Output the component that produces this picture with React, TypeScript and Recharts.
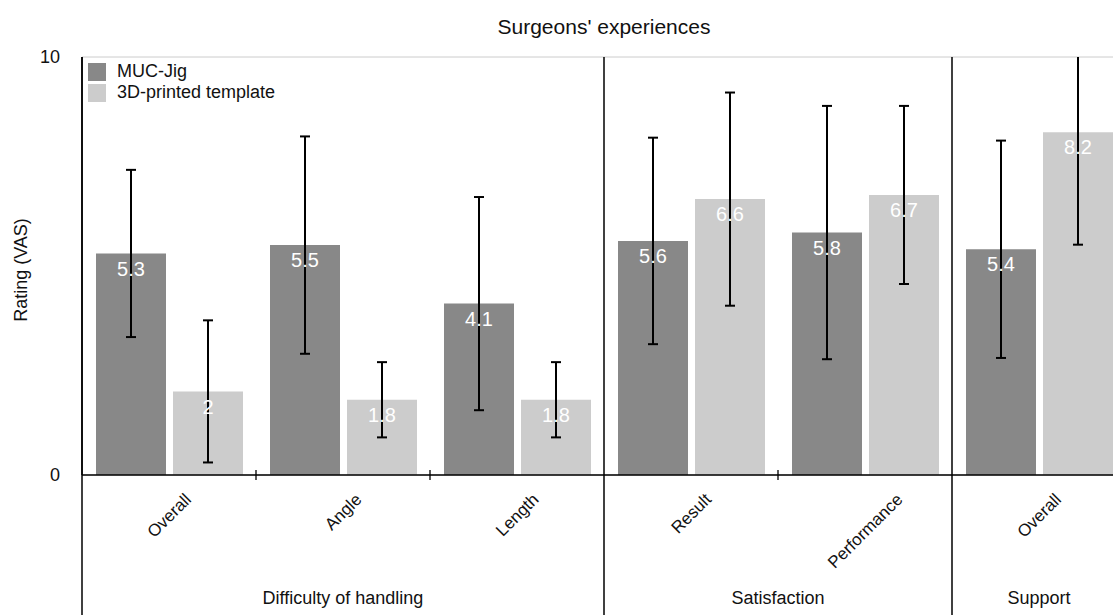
import { BarChart, Bar, XAxis, YAxis, CartesianGrid, ErrorBar, LabelList, Legend, Label } from 'recharts'

// ==================== || SURGEONS' EXPERIENCES - GROUPED BAR CHART WITH SD ||==================== //

const categories = ['Overall', 'Angle', 'Length', 'Result', 'Performance', 'Overall']
const mucJig = [5.3, 5.5, 4.1, 5.6, 5.8, 5.4]
const mucJigSd = [2.0, 2.6, 2.55, 2.47, 3.03, 2.6]
const printed = [2, 1.8, 1.8, 6.6, 6.7, 8.2]
const printedSd = [1.7, 0.9, 0.9, 2.55, 2.13, 2.69]
const groupNames = ['Difficulty of handling', 'Satisfaction', 'Support']
const groupSizes = [3, 2, 1]
const seriesNames = ['MUC-Jig', '3D-printed template']
const yTicks = [0, 10]

const data = categories.map((label, i) => ({
    id: String(i),
    label,
    muc: mucJig[i],
    mucSd: mucJigSd[i],
    printed: printed[i],
    printedSd: printedSd[i],
}))

const FONT = '"Liberation Sans", Arial, Helvetica, sans-serif'
const DARK = '#888888'
const LIGHT = '#cccccc'
const COLORS = [DARK, LIGHT]
const CHART_W = 1130
const CHART_H = 615
const PLOT_LEFT = 82
const PLOT_TOP = 57
const PLOT_RIGHT = 1126
const BAND = (PLOT_RIGHT - PLOT_LEFT) / categories.length
const TICK_FONT = 17

let ctx: CanvasRenderingContext2D | null = null
const measure = (text: string, size: number) => {
    if (!ctx) ctx = document.createElement('canvas').getContext('2d')
    if (!ctx) return text.length * size * 0.55
    ctx.font = `${size}px "Liberation Sans"`
    return ctx.measureText(text).width
}

const groupOf = (index: number) => {
    let start = 0
    for (let g = 0; g < groupSizes.length; g++) {
        if (index < start + groupSizes[g]) return { g, start }
        start += groupSizes[g]
    }
    return { g: groupSizes.length - 1, start }
}

const CategoryTick = (props: any) => {
    const { x, y, index } = props
    const text = categories[index]
    const w = measure(text, TICK_FONT)
    const diag = (w + TICK_FONT * 0.72) * Math.SQRT1_2
    const cy = y + 17 + diag / 2
    const left = x - BAND / 2
    const { g, start } = groupOf(index)
    const isGroupStart = index === start

    return (
        <g>
            <text
                x={x}
                y={cy}
                dy="0.35em"
                textAnchor="middle"
                transform={`rotate(-45, ${x}, ${cy})`}
                fontFamily={FONT}
                fontSize={TICK_FONT}
                fill="#111"
            >
                {text}
            </text>
            {!isGroupStart && (
                <line x1={left} x2={left} y1={y - 5} y2={y + 5} stroke="#000" strokeWidth={1.3} />
            )}
            {isGroupStart && (
                <line x1={left} x2={left} y1={PLOT_TOP} y2={CHART_H} stroke="#000" strokeWidth={1.5} />
            )}
            {isGroupStart && (
                <text
                    x={left + (groupSizes[g] * BAND) / 2}
                    y={604}
                    textAnchor="middle"
                    fontFamily={FONT}
                    fontSize={18}
                    fill="#111"
                >
                    {groupNames[g]}
                </text>
            )}
        </g>
    )
}

const YTitle = ({ viewBox }: any) => {
    const cx = 27
    const cy = viewBox.y + viewBox.height / 2 + 4
    return (
        <text
            x={cx}
            y={cy}
            textAnchor="middle"
            transform={`rotate(-90, ${cx}, ${cy})`}
            fontFamily={FONT}
            fontSize={18}
            fill="#111"
        >
            Rating (VAS)
        </text>
    )
}

// fixed order, recharts sorts the payload by name otherwise
const LegendContent = () => (
    <div style={{ fontFamily: FONT, fontSize: 18, color: '#111' }}>
        {seriesNames.map((name, i) => (
            <div key={name} style={{ display: 'flex', alignItems: 'center', height: 21 }}>
                <span style={{ width: 18, height: 18, background: COLORS[i], marginRight: 11 }} />
                {name}
            </div>
        ))}
    </div>
)

const App = () => {
    return (
        <div
            style={{
                position: 'absolute',
                left: 0,
                top: 0,
                width: 1113,
                height: 615,
                overflow: 'hidden',
                background: '#fff',
            }}
        >
            {/* error bars are not clipped by recharts, cut them at the top of the plot */}
            <style>{`.recharts-errorBars, .recharts-errorBar { clip-path: url(#plot-clip); }`}</style>
            <svg width={0} height={0} style={{ position: 'absolute' }}>
                <defs>
                    <clipPath id="plot-clip" clipPathUnits="userSpaceOnUse">
                        <rect x={0} y={PLOT_TOP} width={CHART_W} height={CHART_H - PLOT_TOP} />
                    </clipPath>
                </defs>
            </svg>
            <div
                style={{
                    position: 'absolute',
                    left: PLOT_LEFT,
                    width: PLOT_RIGHT - PLOT_LEFT,
                    top: 16,
                    textAlign: 'center',
                    fontFamily: FONT,
                    fontSize: 21,
                    lineHeight: '21px',
                    color: '#111',
                }}
            >
                Surgeons' experiences
            </div>
            <BarChart
                width={CHART_W}
                height={CHART_H}
                data={data}
                margin={{ top: PLOT_TOP, right: CHART_W - PLOT_RIGHT, left: 0, bottom: 0 }}
                barGap={7}
                barSize={70}
            >
                <CartesianGrid vertical={false} stroke="#cccccc" />
                <XAxis
                    dataKey="id"
                    height={CHART_H - 475}
                    interval={0}
                    tickLine={false}
                    tickSize={0}
                    tickMargin={0}
                    axisLine={{ stroke: '#000', strokeWidth: 1.5 }}
                    tick={(p: any) => <CategoryTick {...p} />}
                />
                <YAxis
                    width={PLOT_LEFT}
                    domain={[0, 10]}
                    ticks={yTicks}
                    allowDataOverflow
                    tickLine={false}
                    tickMargin={16}
                    axisLine={{ stroke: '#000', strokeWidth: 1.5 }}
                    tick={{ fontFamily: FONT, fontSize: 18, fill: '#111' }}
                >
                    <Label content={<YTitle />} />
                </YAxis>
                <Legend
                    layout="vertical"
                    align="center"
                    verticalAlign="middle"
                    wrapperStyle={{ top: 61, left: 88, width: 'auto', height: 'auto' }}
                    content={<LegendContent />}
                />
                <Bar dataKey="muc" name={seriesNames[0]} fill={DARK} isAnimationActive={false}>
                    <ErrorBar dataKey="mucSd" width={5} strokeWidth={2} stroke="#000" />
                    <LabelList
                        dataKey="muc"
                        position="insideTop"
                        offset={8}
                        fill="#fff"
                        fontSize={20}
                        fontFamily={FONT}
                    />
                </Bar>
                <Bar dataKey="printed" name={seriesNames[1]} fill={LIGHT} isAnimationActive={false}>
                    <ErrorBar dataKey="printedSd" width={5} strokeWidth={2} stroke="#000" />
                    <LabelList
                        dataKey="printed"
                        position="insideTop"
                        offset={8}
                        fill="#fff"
                        fontSize={20}
                        fontFamily={FONT}
                    />
                </Bar>
            </BarChart>
        </div>
    )
}

export default App
